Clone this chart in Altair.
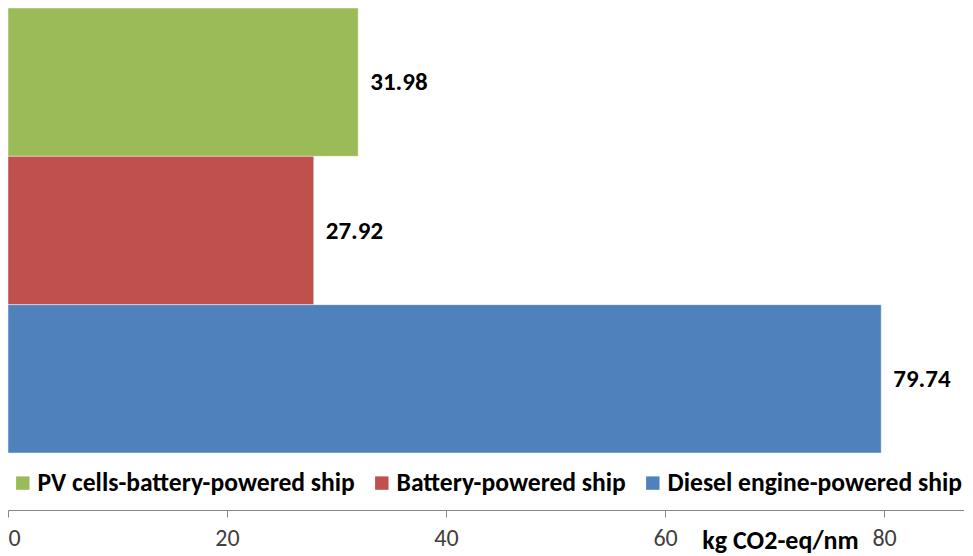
import altair as alt
import pandas as pd

categories = ["PV cells-battery-powered ship", "Battery-powered ship", "Diesel engine-powered ship"]
values = [31.98, 27.92, 79.74]
colors = ["#9BBB59", "#C0504D", "#4F81BD"]
x_ticks = [0, 20, 40, 60, 80]
x_max = 87.3
axis_title = "kg CO2-eq/nm"

df = pd.DataFrame({
    "ship": categories,
    "value": values,
    "label": [f"{v:.2f}" for v in values],
})

FONT = "Carlito, Lato, sans-serif"

y_enc = alt.Y(
    "ship:N",
    sort=categories,
    axis=None,
    scale=alt.Scale(range=[0, 445], paddingInner=0, paddingOuter=0),
)
x_enc = alt.X(
    "value:Q",
    scale=alt.Scale(domain=[0, x_max], nice=False),
    axis=alt.Axis(
        values=x_ticks,
        title=axis_title,
        grid=False,
        domainColor="#868686",
        tickColor="#868686",
        tickSize=7,
        labelFont=FONT,
        labelFontSize=24,
        labelColor="#404040",
        labelPadding=9,
        titleFont=FONT,
        titleFontSize=26,
        titleFontWeight="bold",
        titleColor="#000000",
        titleX=772,
        titleY=30,
        titleBaseline="middle",
        titleAlign="center",
        titleAnchor="start",
    ),
)

bars = alt.Chart(df).mark_bar(stroke="#ffffff", strokeOpacity=0.45, strokeWidth=1).encode(
    x=x_enc,
    y=y_enc,
    color=alt.Color(
        "ship:N",
        scale=alt.Scale(domain=categories, range=colors),
        legend=alt.Legend(
            title=None,
            orient="none",
            legendX=2,
            legendY=462,
            direction="horizontal",
            symbolType="square",
            symbolSize=180,
            symbolStrokeWidth=0,
            labelFont=FONT,
            labelFontSize=25.6,
            labelFontWeight="bold",
            labelColor="#000000",
            labelOffset=2,
            columnPadding=14,
            labelLimit=500,
            padding=0,
        ),
    ),
)

labels = alt.Chart(df).mark_text(
    align="left", baseline="middle", dx=12, font=FONT, fontSize=25, fontWeight="bold", color="#000000"
).encode(
    x=alt.X("value:Q"),
    y=alt.Y("ship:N", sort=categories),
    text="label:N",
)

chart = alt.layer(bars, labels).properties(
    width=956,
    height=502,
    autosize=alt.AutoSizeParams(type="none"),
    padding={"left": 0, "top": 0, "right": 0, "bottom": 46},
).configure_view(stroke=None)

chart.save("out.html", embed_options={"renderer": "svg", "actions": False})
